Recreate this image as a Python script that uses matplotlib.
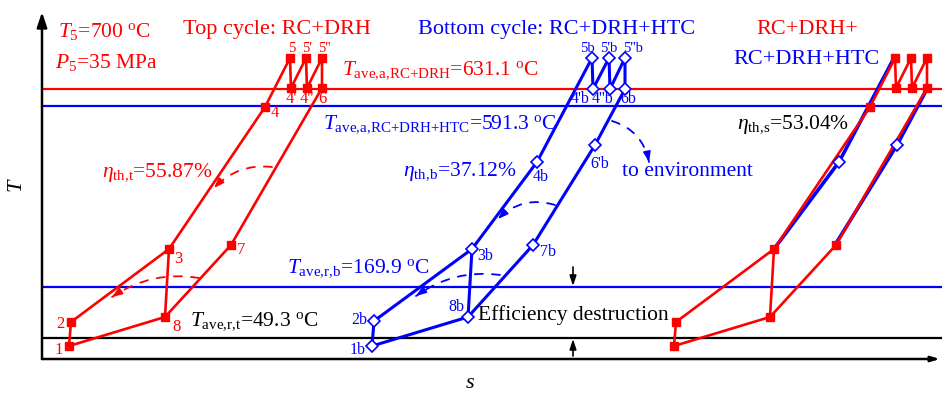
import matplotlib.pyplot as plt
import numpy as np
from matplotlib.patches import FancyArrowPatch

plt.rcParams["font.family"] = ["Liberation Serif", "DejaVu Serif"]
plt.rcParams["mathtext.fontset"] = "custom"
plt.rcParams["mathtext.rm"] = "Liberation Serif"
plt.rcParams["mathtext.it"] = "Liberation Serif:italic"
plt.rcParams["mathtext.bf"] = "Liberation Serif:bold"

RED = "#ff0000"
BLUE = "#0000ff"
W, H = 942, 395

# Top cycle (RC+DRH) state points, schematic s-T coordinates
TOP_LABELS = ["1", "2", "3", "4", "5", "4'", "5'", "4''", "5''", "6", "7", "8"]
TOP_S = [27, 29, 127, 223, 248, 249, 264, 265, 280, 280, 189, 123]
TOP_T = [13, 37, 110, 252, 301, 271, 301, 271, 301, 271, 114, 42]

# Bottom cycle (RC+DRH+HTC) state points
BOT_LABELS = ["1b", "2b", "3b", "4b", "5b", "4'b", "5'b", "4''b", "5''b",
              "6b", "6'b", "7b", "8b"]
BOT_S = [330, 332, 430, 495, 550, 551, 567, 568, 583, 583, 553, 491, 426]
BOT_T = [13, 38, 110, 197, 301, 270, 301, 270, 301, 270, 214, 114, 42]

# Average heat addition / rejection temperature levels
LEVEL_T = [270.5, 253.5, 72, 21]
LEVEL_COLORS = [RED, BLUE, BLUE, "black"]

# where the combined cycle is drawn along s
SHIFT_TOP = 605
SHIFT_BOT = 302

# label offsets in pixels (dx, dy)
TOP_OFFS = [(-10, -4), (-11, -2), (9, -10), (10, -6), (2, 10), (0, -11),
            (1, 10), (0, -11), (2, 10), (0, -11), (10, -5), (12, -10)]
BOT_OFFS = [(-14, -4), (-15, 1), (13, -7), (4, -15), (-5, 10), (-13, -10),
            (0, 10), (-7, -10), (8, 10), (3, -10), (5, -19), (15, -7), (-12, 10)]


def px(x, y):
    return (x / W, 1 - y / H)


def cycle_line(ax, s, t, color, lw=1.9, z=3):
    ax.plot(list(s) + [s[0]], list(t) + [t[0]], color=color, lw=lw, zorder=z,
            solid_capstyle="round")


def dashed_arc(ax, start, end, rad, color):
    start = np.array(start, float)
    end = np.array(end, float)
    d = end - start
    ctrl = (start + end) / 2 + rad * np.array([d[1], -d[0]])
    arc = FancyArrowPatch(start, end, connectionstyle=f"arc3,rad={rad}",
                          arrowstyle="-", linestyle=(0, (4.5, 5)), color=color,
                          lw=1.3, shrinkA=0, shrinkB=0, zorder=3)
    ax.add_patch(arc)
    tang = end - ctrl
    tang /= np.hypot(*tang)
    ax.annotate("", xy=end, xytext=end - tang * 7,
                arrowprops=dict(arrowstyle="-|>,head_length=0.6,head_width=0.22",
                                color=color, lw=1.2, shrinkA=0, shrinkB=0),
                zorder=3)


fig = plt.figure(figsize=(W / 100, H / 100), dpi=100)
ax = fig.add_axes([0, 0, 1, 1])
ax.set_xlim(-42, W - 42)
ax.set_ylim(359 - H, 359)
ax.axis("off")

# axes with arrows
ax.annotate("", xy=(0, 347), xytext=(0, 0),
            arrowprops=dict(arrowstyle="-|>,head_length=0.9,head_width=0.3",
                            color="black", lw=1.8, shrinkA=0, shrinkB=0))
ax.annotate("", xy=(898, 0), xytext=(0, 0),
            arrowprops=dict(arrowstyle="-|>,head_length=0.5,head_width=0.15",
                            color="black", lw=1.8, shrinkA=0, shrinkB=0))

for lev, c in zip(LEVEL_T, LEVEL_COLORS):
    ax.hlines(lev, 0, 900, colors=c, lw=1.6, zorder=1)

# top cycle
cycle_line(ax, TOP_S, TOP_T, RED)
ax.plot([TOP_S[2], TOP_S[11]], [TOP_T[2], TOP_T[11]], color=RED, lw=1.9, zorder=3)
ax.plot(TOP_S, TOP_T, "s", color=RED, ms=5.8, zorder=4, ls="none")
for lab, s, t, off in zip(TOP_LABELS, TOP_S, TOP_T, TOP_OFFS):
    # labels above the turbine inlets sit right under the title, keep them small
    fs = 10.5 if off[1] > 0 and t > 290 else 12
    ax.annotate(lab, (s, t), xytext=off, textcoords="offset pixels",
                ha="center", va="center", color=RED, fontsize=fs)

# bottom cycle
cycle_line(ax, BOT_S, BOT_T, BLUE, lw=2.2)
ax.plot([BOT_S[2], BOT_S[12]], [BOT_T[2], BOT_T[12]], color=BLUE, lw=2.2, zorder=3)
ax.plot(BOT_S, BOT_T, "D", mfc="white", mec=BLUE, mew=1.2, ms=6.5, zorder=4,
        ls="none")
for lab, s, t, off in zip(BOT_LABELS, BOT_S, BOT_T, BOT_OFFS):
    fs = 10.5 if off[1] > 0 and t > 290 else 11.5
    ax.annotate(lab, (s, t), xytext=off, textcoords="offset pixels",
                ha="center", va="center", color=BLUE, fontsize=fs)

# combined cycle: bottom-cycle heat exchange branches under the top cycle
hot = [2, 3, 4]
cold = [9, 10, 11]
for idx in (hot, cold):
    ax.plot([BOT_S[i] + SHIFT_BOT for i in idx], [BOT_T[i] for i in idx],
            color=BLUE, lw=2.6, zorder=2)
    ax.plot([BOT_S[idx[1]] + SHIFT_BOT], [BOT_T[idx[1]]], "D", mfc="white",
            mec=BLUE, mew=1.2, ms=6.5, zorder=4)
comb_s = [s + SHIFT_TOP for s in TOP_S]
cycle_line(ax, comb_s, TOP_T, RED)
ax.plot([comb_s[2], comb_s[11]], [TOP_T[2], TOP_T[11]], color=RED, lw=1.9, zorder=3)
ax.plot(comb_s, TOP_T, "s", color=RED, ms=5.8, zorder=4, ls="none")

# heat flow arrows
dashed_arc(ax, (230, 192), (172, 171), 0.25, RED)
dashed_arc(ax, (157, 81), (70, 62), 0.2, RED)
dashed_arc(ax, (513, 154), (456, 140), 0.3, BLUE)
dashed_arc(ax, (458, 84), (374, 63), 0.2, BLUE)
dashed_arc(ax, (570, 238), (607, 197), -0.3, BLUE)

# efficiency destruction gap markers
ax.annotate("", xy=(531, 73), xytext=(531, 92),
            arrowprops=dict(arrowstyle="-|>,head_length=0.6,head_width=0.2",
                            color="black", lw=1.2, shrinkA=0, shrinkB=0))
ax.annotate("", xy=(531, 20), xytext=(531, 3),
            arrowprops=dict(arrowstyle="-|>,head_length=0.6,head_width=0.2",
                            color="black", lw=1.2, shrinkA=0, shrinkB=0))

notes = [
    (58, 37, r"$T_5$=700 $^{\rm o}$C", RED, 15.5),
    (55, 68, r"$P_5$=35 MPa", RED, 15.5),
    (183, 34, "Top cycle: RC+DRH", RED, 16),
    (418, 34, "Bottom cycle: RC+DRH+HTC", BLUE, 16),
    (342, 74, r"$T_{\text{ave,a,RC+DRH}}$=631.1 $^{\rm o}$C", RED, 15.5),
    (323, 128, r"$T_{\text{ave,a,RC+DRH+HTC}}$=591.3 $^{\rm o}$C", BLUE, 15.5),
    (102, 177, r"$\eta_{\text{th,t}}$=55.87%", RED, 15.5),
    (403, 176, r"$\eta_{\text{th,b}}$=37.12%", BLUE, 15.5),
    (622, 176, "to environment", BLUE, 15.5),
    (737, 129, r"$\eta_{\text{th,s}}$=53.04%", "black", 15.5),
    (287, 272, r"$T_{\text{ave,r,b}}$=169.9 $^{\rm o}$C", BLUE, 15.5),
    (190, 325, r"$T_{\text{ave,r,t}}$=49.3 $^{\rm o}$C", "black", 15.5),
    (478, 320, "Efficiency destruction", "black", 15.5),
]
for x, y, txt, c, fs in notes:
    fig.text(*px(x, y), txt, color=c, fontsize=fs, ha="left", va="baseline")

fig.text(*px(807, 34), "RC+DRH+", color=RED, fontsize=16, ha="center",
         va="baseline")
fig.text(*px(807, 64), "RC+DRH+HTC", color=BLUE, fontsize=16, ha="center",
         va="baseline")

fig.text(*px(18, 185), "$T$", fontsize=16, rotation=90, ha="center", va="center")
fig.text(*px(470, 383), "$s$", fontsize=16, ha="center", va="center")

fig.savefig("out.png", dpi=100)
